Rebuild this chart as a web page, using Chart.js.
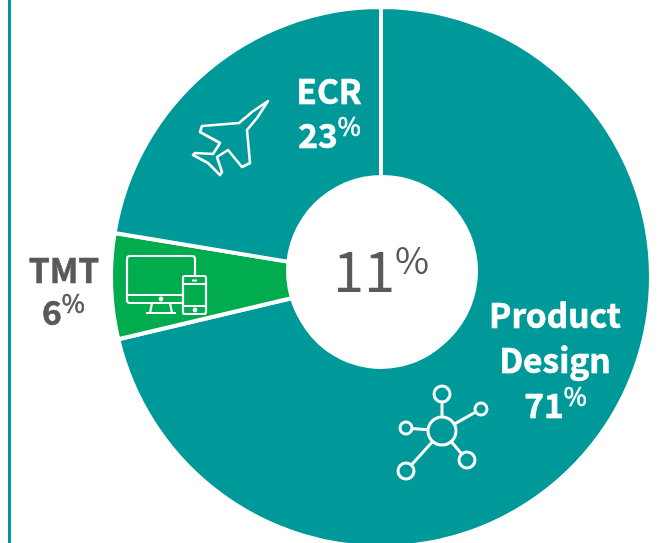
<!DOCTYPE html>
<html>
<head>
<meta charset="utf-8">
<script src="https://cdn.jsdelivr.net/npm/chart.js@4/dist/chart.umd.min.js"></script>
<style>
  html, body { margin: 0; padding: 0; background: #fff; overflow: hidden; }
  #wrap { position: relative; width: 659px; height: 543px; overflow: hidden; }
  #rule { position: absolute; left: 8px; top: 0; width: 3px; height: 543px; background: #009999; }
  canvas { position: absolute; left: 0; top: 0; }
</style>
</head>
<body>
<div id="wrap">
  <div id="rule"></div>
  <canvas id="chart" width="659" height="600"></canvas>
</div>
<script>
// slices run clockwise from 12 o'clock
const categories = ["Product Design", "TMT", "ECR"];
const sliceShares = [71.3, 6.3, 22.4];   // as measured off the wedges
const printedPercents = [71, 6, 23];     // as printed on the labels
const sliceColors = ["#009999", "#00AC4E", "#009999"];
const centerPercent = 11;

const FONT = '"Noto Sans CJK SC", "Noto Sans", sans-serif';
const WHITE = "#ffffff";
const GREY = "#58595B";

// bold text in the original is a touch heavier than the installed bold
function boldText(ctx, text, x, y) {
  ctx.lineWidth = 0.6;
  ctx.lineJoin = "round";
  ctx.strokeStyle = ctx.fillStyle;
  ctx.strokeText(text, x, y);
  ctx.fillText(text, x, y);
}

function percentText(ctx, value, x, y, color, size, pctSize, weight, rise) {
  ctx.fillStyle = color;
  ctx.textBaseline = "alphabetic";
  ctx.textAlign = "left";
  ctx.font = `${weight} ${size}px ${FONT}`;
  const w = ctx.measureText(String(value)).width;
  ctx.font = `${weight} ${pctSize}px ${FONT}`;
  const pw = ctx.measureText("%").width;
  const left = x - (w + pw) / 2;
  const put = weight === 700 ? boldText : (c, t, a, b) => c.fillText(t, a, b);
  ctx.font = `${weight} ${size}px ${FONT}`;
  put(ctx, String(value), left, y);
  ctx.font = `${weight === 700 ? 400 : weight} ${pctSize}px ${FONT}`;
  put(ctx, "%", left + w, y - rise);
}

function nameText(ctx, text, x, y, color) {
  ctx.fillStyle = color;
  ctx.textAlign = "center";
  ctx.textBaseline = "alphabetic";
  ctx.font = `700 33.5px ${FONT}`;
  boldText(ctx, text, x, y);
}

function drawJet(ctx) {
  const pts = [[268,101],[252,112],[239,123],[202,126],[200,132],[220,143],[213,154],[195,153],[193,155],
    [208,163],[220,175],[222,172],[217,157],[228,150],[242,167],[250,163],[247,130],[257,118]];
  ctx.beginPath();
  pts.forEach((p, i) => i ? ctx.lineTo(p[0], p[1]) : ctx.moveTo(p[0], p[1]));
  ctx.closePath();
  ctx.stroke();
}

function drawDevices(ctx) {
  // monitor, open where the phone overlaps it
  ctx.beginPath();
  ctx.moveTo(183, 303);
  ctx.lineTo(130, 303);
  ctx.arcTo(127, 303, 127, 300, 3);
  ctx.lineTo(127, 259);
  ctx.arcTo(127, 256, 130, 256, 3);
  ctx.lineTo(192, 256);
  ctx.arcTo(195, 256, 195, 259, 3);
  ctx.lineTo(195, 276);
  ctx.moveTo(127, 295);
  ctx.lineTo(183, 295);
  ctx.moveTo(152, 303);
  ctx.lineTo(150, 313);
  ctx.moveTo(170, 303);
  ctx.lineTo(172, 313);
  ctx.moveTo(146, 313);
  ctx.lineTo(176, 313);
  ctx.stroke();
  // phone
  ctx.beginPath();
  ctx.roundRect(183, 276, 23, 38, 2);
  ctx.moveTo(183, 284);
  ctx.lineTo(206, 284);
  ctx.moveTo(183, 306);
  ctx.lineTo(206, 306);
  ctx.moveTo(192, 280.5);
  ctx.lineTo(197, 280.5);
  ctx.stroke();
  ctx.beginPath();
  ctx.arc(161, 299, 1.3, 0, Math.PI * 2);
  ctx.moveTo(196.3, 310);
  ctx.arc(195, 310, 1.3, 0, Math.PI * 2);
  ctx.stroke();
}

function drawNetwork(ctx) {
  const hub = [442, 431, 14];
  const nodes = [[442,394,8],[481,409,6],[406,428,6],[467,460,8],[406,471,8]];
  ctx.beginPath();
  ctx.arc(hub[0], hub[1], hub[2], 0, Math.PI * 2);
  ctx.stroke();
  nodes.forEach(n => {
    const dx = n[0] - hub[0], dy = n[1] - hub[1], d = Math.hypot(dx, dy);
    ctx.beginPath();
    ctx.arc(n[0], n[1], n[2], 0, Math.PI * 2);
    ctx.moveTo(hub[0] + dx / d * hub[2], hub[1] + dy / d * hub[2]);
    ctx.lineTo(n[0] - dx / d * n[2], n[1] - dy / d * n[2]);
    ctx.stroke();
  });
}

const overlay = {
  id: "overlay",
  afterDatasetsDraw(chart) {
    const ctx = chart.ctx;
    const arc = chart.getDatasetMeta(0).data[0];

    // the hole sits slightly above the ring's centre in the original
    ctx.save();
    ctx.fillStyle = WHITE;
    ctx.beginPath();
    ctx.arc(arc.x + 1, arc.y - 6, 96, 0, Math.PI * 2);
    ctx.fill();

    nameText(ctx, "ECR", 329, 104, WHITE);
    percentText(ctx, printedPercents[2], 330, 148, WHITE, 33.5, 25, 700, 12);
    nameText(ctx, "TMT", 64, 283, GREY);
    percentText(ctx, printedPercents[1], 64, 325, GREY, 33.5, 25, 700, 12);
    nameText(ctx, "Product", 555, 328, WHITE);
    nameText(ctx, "Design", 555, 373, WHITE);
    percentText(ctx, printedPercents[0], 556, 418, WHITE, 33.5, 25, 700, 12);
    percentText(ctx, centerPercent, 381, 292, GREY, 56, 37, 400, 18);

    ctx.strokeStyle = WHITE;
    ctx.lineWidth = 2.6;
    ctx.lineJoin = "round";
    drawJet(ctx);
    ctx.lineWidth = 2.2;
    drawDevices(ctx);
    ctx.lineWidth = 3;
    drawNetwork(ctx);
    ctx.restore();
  }
};

new Chart(document.getElementById("chart"), {
  type: "doughnut",
  data: {
    labels: categories,
    datasets: [{
      data: sliceShares,
      backgroundColor: sliceColors,
      borderColor: WHITE,
      borderWidth: 4
    }]
  },
  options: {
    responsive: false,
    animation: false,
    cutout: 90,
    layout: { padding: { left: 109, right: 6, top: 5, bottom: 51 } },
    plugins: {
      legend: { display: false },
      tooltip: { enabled: false }
    }
  },
  plugins: [overlay]
});
</script>
</body>
</html>
